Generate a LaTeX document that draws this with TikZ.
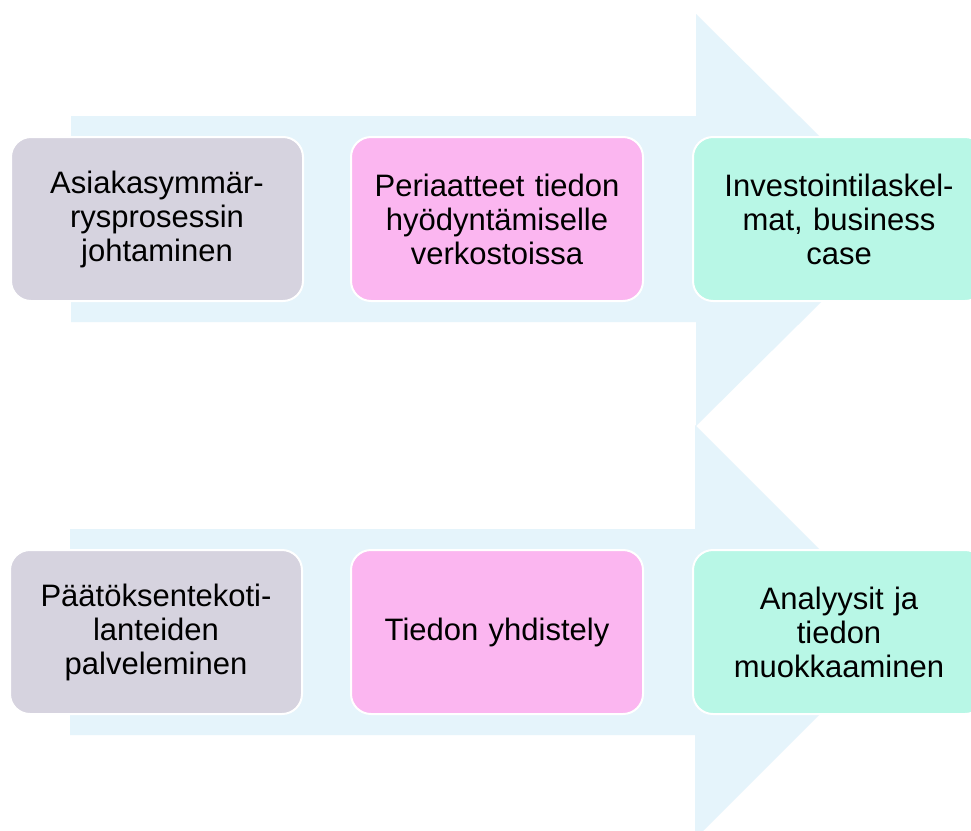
\documentclass[tikz,border=0pt]{standalone}
\usepackage{fontspec}
\setmainfont{Liberation Sans}
\begin{document}
\begin{tikzpicture}[x=1pt,y=-1pt,
  flow/.style={fill=arrowblue, draw=none},
  stage/.style={draw=white, line width=2pt, rounded corners=20pt,
    minimum width=292pt, minimum height=164pt, inner sep=0pt,
    align=center, text width=280pt,
    font=\fontsize{31}{34}\selectfont},
  grey/.style={stage, fill=stagegrey},
  pink/.style={stage, fill=stagepink},
  mint/.style={stage, fill=stagemint}]
\definecolor{arrowblue}{HTML}{E5F4FB}
\definecolor{stagegrey}{HTML}{D6D3DF}
\definecolor{stagepink}{HTML}{FBB6F0}
\definecolor{stagemint}{HTML}{B8F7E6}
\path[use as bounding box] (0,0) rectangle (971,830);
\clip (0,0) rectangle (971,830);
\fill[white] (0,0) rectangle (971,830);
% upper process arrow
\path[flow] (71,116) -- (696,116) -- (696,14) -- (904,220) -- (696,426)
  -- (696,322) -- (71,322) -- cycle;
% lower process arrow
\path[flow] (70,529) -- (695,529) -- (695,425) -- (902,632) -- (695,839)
  -- (695,735) -- (70,735) -- cycle;
% upper row of stages
\node[grey] (a1) at (157,219) {Asiakasymmär-\\rysprosessin\\johtaminen};
\node[pink] (a2) at (497,219) {Periaatteet tiedon\\hyödyntämiselle\\verkostoissa};
\node[mint] (a3) at (839,219) {Investointilaskel-\\mat, business\\case};
% lower row of stages
\node[grey] (b1) at (156,632) {Päätöksentekoti-\\lanteiden\\palveleminen};
\node[pink] (b2) at (497,632) {Tiedon yhdistely};
\node[mint] (b3) at (839,632) {Analyysit ja\\tiedon\\muokkaaminen};
\end{tikzpicture}
\end{document}
